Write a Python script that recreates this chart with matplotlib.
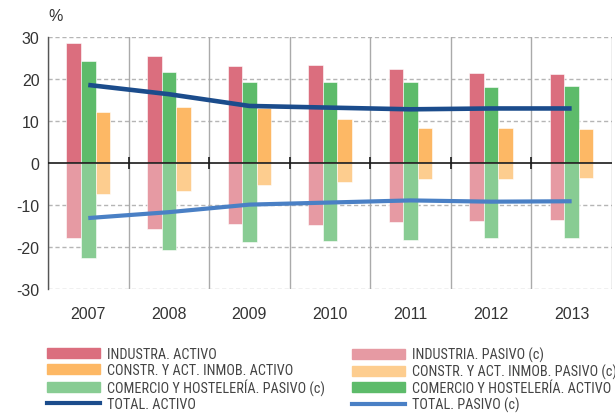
import numpy as np
import matplotlib
matplotlib.use("Agg")
import matplotlib.pyplot as plt
from matplotlib import font_manager
from matplotlib.textpath import TextPath
from matplotlib.patches import Patch
from matplotlib.lines import Line2D

# Years on the x axis
years = ['2007', '2008', '2009', '2010', '2011', '2012', '2013']

# Activo (positive) series, %
industria_activo = [28.7, 25.5, 23.2, 23.4, 22.4, 21.4, 21.3]
comercio_activo = [24.2, 21.6, 19.3, 19.4, 19.3, 18.2, 18.3]
constr_activo = [12.1, 13.3, 13.2, 10.5, 8.3, 8.3, 8.0]
total_activo = [18.6, 16.4, 13.6, 13.2, 12.8, 13.0, 13.0]

# Pasivo (negative) series, %
industria_pasivo = [-17.9, -15.7, -14.4, -14.7, -14.1, -13.7, -13.5]
comercio_pasivo = [-22.7, -20.8, -18.9, -18.6, -18.3, -17.9, -17.8]
constr_pasivo = [-7.4, -6.7, -5.2, -4.4, -3.8, -3.8, -3.5]
total_pasivo = [-13.1, -11.7, -9.9, -9.4, -8.9, -9.2, -9.1]

c_ind_a, c_ind_p = '#db6e7e', '#e69aa3'
c_com_a, c_com_p = '#5dbb6a', '#88cc93'
c_con_a, c_con_p = '#fdb865', '#fdcd8f'
c_tot_a, c_tot_p = '#1b4c8c', '#4a80c5'
txt = '#333333'

plt.rcParams['font.family'] = ['Liberation Sans', 'DejaVu Sans']

# narrow face for the legend if one is around, else regular Liberation Sans
def legend_font():
    condensed = [f for f in font_manager.fontManager.ttflist
                 if f.style == 'normal' and f.weight in (400, 'normal', 'regular')
                 and (str(f.stretch) in ('condensed', 'semi-condensed', 'extra-condensed')
                      or 'Narrow' in f.name or 'Condensed' in f.name)]
    for pref in ('Liberation Sans Narrow', 'Roboto Condensed', 'Open Sans Condensed'):
        for f in condensed:
            if f.name == pref:
                return font_manager.FontProperties(fname=f.fname, size=10)
    for f in condensed:
        if 'DejaVu Sans' in f.name and 'Mono' not in f.name:
            return font_manager.FontProperties(fname=f.fname, size=10)
    if condensed:
        return font_manager.FontProperties(fname=condensed[0].fname, size=10)
    return font_manager.FontProperties(family='Liberation Sans', size=10)

fig = plt.figure(figsize=(6.15, 4.14), dpi=100, facecolor='w')
ax = fig.add_axes([0.078, 0.2995, 0.917, 0.6085])

x = np.arange(len(years))
w = 0.18
bar_kw = dict(width=w, edgecolor='white', linewidth=0.4, zorder=3)
ax.bar(x - w, industria_activo, color=c_ind_a, **bar_kw)
ax.bar(x, comercio_activo, color=c_com_a, **bar_kw)
ax.bar(x + w, constr_activo, color=c_con_a, **bar_kw)
ax.bar(x - w, industria_pasivo, color=c_ind_p, **bar_kw)
ax.bar(x, comercio_pasivo, color=c_com_p, **bar_kw)
ax.bar(x + w, constr_pasivo, color=c_con_p, **bar_kw)

ax.plot(x, total_activo, color=c_tot_a, lw=3.3, zorder=5, solid_capstyle='butt')
ax.plot(x, total_pasivo, color=c_tot_p, lw=3.0, zorder=5, solid_capstyle='butt')

ax.set_xlim(-0.5, len(years) - 0.5)
ax.set_ylim(-30, 30)
ax.set_yticks([-30, -20, -10, 0, 10, 20, 30])
ax.set_yticklabels(['-30', '-20', '-10', '0', '10', '20', '30'])
ax.set_xticks(x)
ax.set_xticklabels(years)
ax.set_xticks(np.arange(len(years) + 1) - 0.5, minor=True)
ax.tick_params(axis='x', which='both', length=0, pad=12, labelsize=11.5, colors=txt)
ax.tick_params(axis='y', length=0, pad=6, labelsize=11.5, colors=txt)

# horizontal dashed grid, vertical separators between years
for v in [-30, -20, -10, 10, 20, 30]:
    ax.axhline(v, color='#b5b5b5', lw=1, ls=(0, (3, 2)), zorder=1)
ax.grid(which='minor', axis='x', color='#aaaaaa', lw=1, zorder=1)
ax.axhline(0, color='#1a1a1a', lw=1.2, zorder=6)
ax.vlines(np.arange(1, len(years)) - 0.5, -1.4, 1.4, color='#1a1a1a', lw=1.2, zorder=6)

for s in ('top', 'right', 'bottom'):
    ax.spines[s].set_visible(False)
ax.spines['left'].set_color('#555555')
ax.spines['left'].set_linewidth(1)

fig.text(0.078, 0.961, '%', fontsize=11.5, color=txt, ha='left', va='center')

# legend in two columns below the chart
left_handles = [Patch(color=c_ind_a), Patch(color=c_con_a), Patch(color=c_com_p),
                Line2D([], [], color=c_tot_a, lw=3)]
left_labels = ['INDUSTRA. ACTIVO', 'CONSTR. Y ACT. INMOB. ACTIVO',
               'COMERCIO Y HOSTELERÍA. PASIVO (c)', 'TOTAL. ACTIVO']
right_handles = [Patch(color=c_ind_p), Patch(color=c_con_p), Patch(color=c_com_a),
                 Line2D([], [], color=c_tot_p, lw=3)]
right_labels = ['INDUSTRIA. PASIVO (c)', 'CONSTR. Y ACT. INMOB. PASIVO (c)',
                'COMERCIO Y HOSTELERÍA. ACTIVO', 'TOTAL. PASIVO (c)']

# size the legend text so the first label is about 108 px wide
leg_prop = legend_font()
probe = TextPath((0, 0), left_labels[0], prop=leg_prop).get_extents().width
fs = 10 * 108 / (probe * fig.dpi / 72)
leg_prop.set_size(fs)

leg_kw = dict(loc='upper left', frameon=False, prop=leg_prop, handlelength=38 / fs,
              handleheight=0.7, handletextpad=5 / fs, labelspacing=0.13,
              borderpad=0, borderaxespad=0, labelcolor='#444444')
l1 = fig.legend(left_handles, left_labels, bbox_to_anchor=(0.077, 0.160), **leg_kw)
l2 = fig.legend(right_handles, right_labels, bbox_to_anchor=(0.573, 0.160), **leg_kw)

fig.savefig('out.png', dpi=100)
